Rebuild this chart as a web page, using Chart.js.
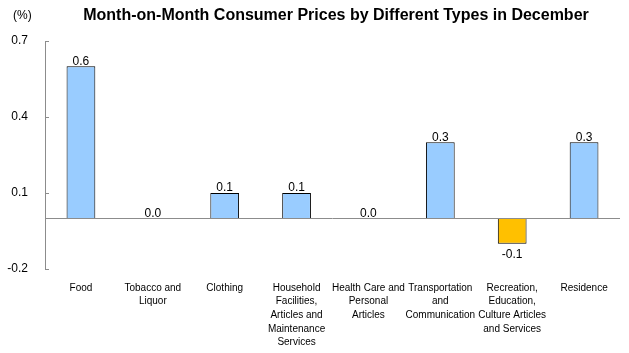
<!DOCTYPE html>
<html><head><meta charset="utf-8">
<script src="https://cdn.jsdelivr.net/npm/chart.js@4"></script>
<style>html,body{margin:0;padding:0;background:#fff}#wrap{width:629px;height:353px;position:relative}</style>
</head><body><div id="wrap"><canvas id="c"></canvas></div>
<script>
const categories = [
  ["Food"],
  ["Tobacco and","Liquor"],
  ["Clothing"],
  ["Household","Facilities,","Articles and","Maintenance","Services"],
  ["Health Care and","Personal","Articles"],
  ["Transportation","and","Communication"],
  ["Recreation,","Education,","Culture Articles","and Services"],
  ["Residence"]
];
const values = [0.6, 0.0, 0.1, 0.1, 0.0, 0.3, -0.1, 0.3];
const yTicks = [-0.2, 0.1, 0.4, 0.7];
const titleText = "Month-on-Month Consumer Prices by Different Types in December";
const unitText = "(%)";

const FONT = "'Liberation Sans', Arial, sans-serif";

const extras = {
  id: 'extras',
  afterDatasetsDraw(chart) {
    const ctx = chart.ctx, y = chart.scales.y, ca = chart.chartArea;
    ctx.save();
    // zero line
    const y0 = Math.round(y.getPixelForValue(0)) + 0.5;
    ctx.strokeStyle = '#8c8c8c'; ctx.lineWidth = 1;
    ctx.beginPath(); ctx.moveTo(ca.left, y0); ctx.lineTo(ca.right, y0); ctx.stroke();
    // inner tick marks
    y.ticks.forEach(t => {
      const py = Math.round(y.getPixelForValue(t.value)) + 0.5;
      ctx.beginPath(); ctx.moveTo(ca.left, py); ctx.lineTo(ca.left + 4, py); ctx.stroke();
    });
    // data labels
    ctx.fillStyle = '#000'; ctx.font = '12px ' + FONT; ctx.textAlign = 'center'; ctx.textBaseline = 'middle';
    const meta = chart.getDatasetMeta(0);
    meta.data.forEach((bar, i) => {
      const v = values[i];
      const ty = v < 0 ? bar.y + 11 : bar.y - 5;
      ctx.fillText(v.toFixed(1), bar.x, ty);
    });
    // title and unit
    ctx.font = 'bold 16px ' + FONT; ctx.textAlign = 'center';
    ctx.fillText(titleText, 336, 16);
    ctx.font = '12px ' + FONT; ctx.textAlign = 'left';
    ctx.fillText(unitText, 13, 16);
    ctx.restore();
  }
};

new Chart(document.getElementById('c'), {
  type: 'bar',
  data: {
    labels: categories,
    datasets: [{
      data: values,
      backgroundColor: values.map(v => v < 0 ? '#FFC000' : '#99CCFF'),
      borderColor: '#000',
      borderWidth: 1,
      categoryPercentage: 1,
      barPercentage: 0.4
    }]
  },
  options: {
    responsive: true, maintainAspectRatio: false, animation: false,
    devicePixelRatio: 1,
    layout: { padding: { top: 41, right: 9, left: 0, bottom: 0 } },
    plugins: { legend: { display: false }, title: { display: false }, tooltip: { enabled: false } },
    scales: {
      x: {
        grid: { display: false, drawTicks: false },
        border: { display: false },
        ticks: { color: '#000', font: { family: FONT, size: 10, lineHeight: 1.37 }, padding: 12, maxRotation: 0, autoSkip: false },
        afterFit(s) { s.height = 84; }
      },
      y: {
        min: -0.2, max: 0.7,
        afterBuildTicks(s) { s.ticks = yTicks.map(v => ({ value: v })); },
        grid: { display: false, drawTicks: false },
        border: { display: true, color: '#8c8c8c', width: 1 },
        ticks: { color: '#000', font: { family: FONT, size: 12 }, padding: 17, callback: v => Number(v).toFixed(1) },
        afterFit(s) { s.width = 45; }
      }
    }
  },
  plugins: [extras]
});
</script></body></html>
